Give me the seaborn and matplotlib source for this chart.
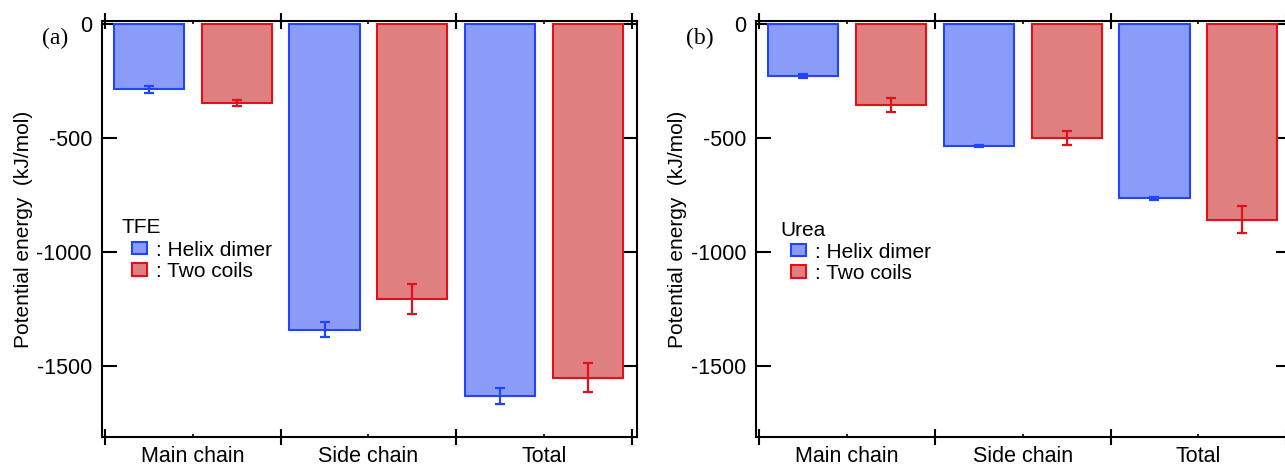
import matplotlib
matplotlib.use("Agg")
import matplotlib.pyplot as plt
import pandas as pd
import seaborn as sns

# --- Data ---
parts = ["Main chain", "Side chain", "Total"]
states = ["Helix dimer", "Two coils"]

tfe_helix = [-286, -1342, -1633]
tfe_helix_err = [15, 32, 36]
tfe_coils = [-345, -1207, -1553]
tfe_coils_err = [15, 67, 62]

urea_helix = [-226, -534, -765]
urea_helix_err = [8, 5, 7]
urea_coils = [-355, -500, -859]
urea_coils_err = [32, 30, 59]

yticks = [0, -500, -1000, -1500]

# --- Style ---
FILL = ["#8a9cf8", "#e07f7f"]
EDGE = ["#2244ff", "#e0111a"]
FS = 15

sns.set_style("ticks")
plt.rcParams["font.family"] = ["Liberation Sans", "DejaVu Sans"]
plt.rcParams.update({
    "text.color": "black",
    "axes.labelcolor": "black",
    "xtick.color": "black",
    "ytick.color": "black",
})


def draw_panel(ax, helix, helix_err, coils, coils_err, solvent, title_xy, legend_xy):
    df = pd.DataFrame({
        "part": parts * 2,
        "state": [states[0]] * len(parts) + [states[1]] * len(parts),
        "energy": helix + coils,
    })
    sns.barplot(data=df, x="part", y="energy", hue="state", order=parts,
                hue_order=states, palette=FILL, saturation=1, width=1.0,
                gap=0.2, errorbar=None, linewidth=1.5, legend=False, ax=ax)
    bars = list(ax.containers)

    # edge colours and error bars per series
    for cont, edge, errs in zip(bars, EDGE, [helix_err, coils_err]):
        for bar in cont:
            bar.set_edgecolor(edge)
        xs = [b.get_x() + b.get_width() / 2 for b in cont]
        ys = [b.get_y() + b.get_height() for b in cont]
        ax.errorbar(xs, ys, yerr=errs, fmt="none", ecolor=edge,
                    elinewidth=1.6, capsize=3.5, capthick=1.6)

    ax.set_xlim(-0.519, 2.527)
    ax.set_ylim(-1813, 15)

    # category boundaries as major ticks, labels on minor ticks
    n = len(parts)
    ax.set_xticks([i - 0.5 for i in range(n + 1)])
    ax.set_xticklabels([])
    ax.set_xticks(range(n), minor=True)
    ax.set_xticklabels(parts, minor=True)
    ax.set_yticks(yticks)
    ax.set_yticklabels([str(v) for v in yticks])

    ax.tick_params(axis="x", which="major", direction="inout", length=12,
                   width=1.5, top=True, bottom=True, color="black")
    ax.tick_params(axis="x", which="minor", direction="in", length=2,
                   width=1.2, top=True, bottom=True, labelsize=15.5, pad=7,
                   color="black", labelcolor="black")
    ax.tick_params(axis="y", which="major", direction="in", length=11,
                   width=1.5, left=True, right=True, labelsize=15.5, pad=7,
                   color="black", labelcolor="black")

    for sp in ax.spines.values():
        sp.set_linewidth(1.5)
        sp.set_color("black")

    ax.set_xlabel("")
    ax.set_ylabel("Potential energy  (kJ/mol)", fontsize=FS, color="black")
    ax.yaxis.set_label_coords(-0.128, 0.5)

    # legend title sits a little left of the entries, as in the original
    ax.text(title_xy[0], title_xy[1], solvent, transform=ax.transAxes,
            fontsize=FS, ha="left", va="center", color="black")
    handles = [c.patches[0] for c in bars]
    leg = ax.legend(handles=handles, labels=[": " + s for s in states],
                    loc="upper left", bbox_to_anchor=legend_xy,
                    frameon=False, fontsize=FS, borderpad=0, borderaxespad=0,
                    handlelength=0.72, handleheight=0.55, handletextpad=0.45,
                    labelspacing=0.1)
    for t in leg.get_texts():
        t.set_color("black")


fig = plt.figure(figsize=(12.85, 4.67), dpi=100)
ax_a = fig.add_axes([0.0791, 0.0649, 0.4163, 0.890])
ax_b = fig.add_axes([0.5883, 0.0649, 0.4163, 0.890])

draw_panel(ax_a, tfe_helix, tfe_helix_err, tfe_coils, tfe_coils_err,
           "TFE", (0.038, 0.504), (0.0566, 0.472))
draw_panel(ax_b, urea_helix, urea_helix_err, urea_coils, urea_coils_err,
           "Urea", (0.045, 0.497), (0.0654, 0.467))

fig.text(55 / 1285, 1 - 38 / 467, "(a)", family="Liberation Serif",
         fontsize=17, ha="center", va="center")
fig.text(700 / 1285, 1 - 38 / 467, "(b)", family="Liberation Serif",
         fontsize=17, ha="center", va="center")

fig.savefig("out.png", dpi=100)
